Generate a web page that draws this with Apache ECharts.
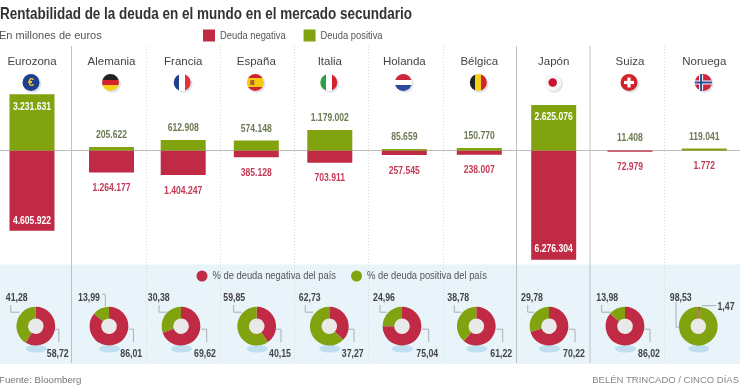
<!DOCTYPE html>
<html>
<head>
<meta charset="utf-8">
<style>html,body{margin:0;padding:0;background:#fff}#c{width:740px;height:389px}</style>
<script src="https://cdn.jsdelivr.net/npm/echarts@6/dist/echarts.min.js"></script>
</head>
<body>
<div id="c"></div>
<script>
const countries = ['Eurozona','Alemania','Francia','España','Italia','Holanda','Bélgica','Japón','Suiza','Noruega'];
const debtNegative = [4605922,1264177,1404247,385128,703911,257545,238007,6276304,72979,1772];
const debtPositive = [3231631,205622,612908,574148,1179002,85659,150770,2625076,11408,119041];
const pctNegative = [58.72,86.01,69.62,40.15,37.27,75.04,61.22,70.22,86.02,1.47];
const pctPositive = [41.28,13.99,30.38,59.85,62.73,24.96,38.78,29.78,13.98,98.53];

/* layout only */
const SANS = '"Liberation Sans", Arial, sans-serif';
const NARROW_T = 'Liberation Sans, Narrow-title';
const NARROW_V = 'Liberation Sans, Narrow-value';
const NARROW_P = 'Liberation Sans, Narrow-pct';
const NARROW_L = 'Liberation Sans, Narrow-legend';
const narrowScale = {'Narrow-title':.817,'Narrow-value':.78,'Narrow-pct':.76,'Narrow-legend':.815};
const RED = '#c02a45', GREEN = '#80a30f';
const barCenters = [32,111.5,183.2,256.3,329.8,404.3,479.3,553.7,630,704.3];
const pieCenters = [35.8,109,181,256.7,329.3,402,476.3,549,625,698.3];
const pieY = 326.2;
const solidSeps = [71.5,516.5,590];
const dotSeps = [146.5,220.5,294.5,368.5,443.5,664.5];
const negLabel = [[22,27],[22.3,27],[24,27],[23.3,27],[23.4,27],[25.3,27],[25,27],[25,27],[24,27],[27.7,-20.5]];
const posLabel = [[-19,-29],[-20,-29],[-22.3,-29],[-22.4,-29],[-19.6,-29],[-18,-29],[-18,-29],[-17,-29],[-17.7,-29],[-17.6,-29.5]];
const negLine = [
  [[18,3],[23,3],[23,16]],[[20,3],[24.5,3],[24.5,16]],[[20.5,3],[25.7,3],[25.7,16]],[[19,3],[24.3,3],[24.3,16]],
  [[19,3],[24.7,3],[24.7,16]],[[20,3],[26.7,3],[26.7,16]],[[20,3],[26.4,3],[26.4,16]],[[20,3],[26,3],[26,16]],
  [[19.5,3],[25,3],[25,16]],[[3.5,-20.5],[17.7,-20.5]]];
const posLine = [
  [[-25,-21],[-25,-14],[-16,-14]],[[-7,-32],[-3.7,-32],[-3.7,-20]],[[-22,-21],[-22,-14],[-14,-14]],[[-23,-21],[-23,-14],[-15,-14]],
  [[-24,-21],[-24,-14],[-16,-14]],[[-22,-21],[-22,-14],[-15,-14]],[[-22,-21],[-22,-14],[-15,-14]],[[-21.3,-21],[-21.3,-14],[-15,-14]],
  [[-23.3,-21],[-23.3,-14],[-14,-14]],[[-22.3,-24.5],[-22.3,1],[-19,1]]];

const fmtInt = v => String(Math.abs(v)).replace(/\B(?=(\d{3})+$)/g,'.');
const fmtPct = v => v.toFixed(2).replace('.',',');
const insideLabels = {Eurozona:[7,4], 'Japón':[7,5]};

const grids=[],xAxes=[],yAxes=[],series=[],graphics=[];

function line(points,stroke,dash,z){
  return {type:'polyline',silent:true,z:z||1,shape:{points},style:{fill:null,stroke,lineWidth:1,lineDash:dash||null}};
}
graphics.push({type:'rect',silent:true,z:0,shape:{x:0,y:264.5,width:740,height:99.5},style:{fill:'#e8f3fa'}});
solidSeps.forEach(x=>graphics.push(line([[x,46],[x,363]],'#bcc3c8')));
dotSeps.forEach(x=>graphics.push(line([[x,46],[x,364]],'#d6d9dc',[1,2])));

function hstops(a){const s=[];a.forEach((c,i)=>{s.push({offset:i/a.length,color:c});s.push({offset:(i+1)/a.length,color:c});});return s;}
function hGrad(a){return {type:'linear',x:0,y:0,x2:1,y2:0,colorStops:hstops(a)};}
function vGrad(a){return {type:'linear',x:0,y:0,x2:0,y2:1,colorStops:hstops(a)};}
function circ(cx,cy,r,fill){return {type:'circle',silent:true,z:1,shape:{cx,cy,r},style:{fill}};}
function rct(x,y,w,h,fill){return {type:'rect',silent:true,z:1,shape:{x,y,width:w,height:h},style:{fill}};}
const flagFns = [
  (x,y)=>[circ(x,y,8.5,'#1f3f8f'),{type:'text',silent:true,z:1,style:{x,y,text:'€',fill:'#e8c32a',font:'bold 11px '+SANS,align:'center',verticalAlign:'middle'}}],
  (x,y)=>[circ(x,y,8.5,vGrad(['#222222','#d2232a','#f5cf1a']))],
  (x,y)=>[circ(x,y,8.5,hGrad(['#1f3f8f','#ffffff','#e0343b']))],
  (x,y)=>[circ(x,y,8.5,{type:'linear',x:0,y:0,x2:0,y2:1,colorStops:[{offset:0,color:'#d2232a'},{offset:.25,color:'#d2232a'},{offset:.25,color:'#f6c90e'},{offset:.75,color:'#f6c90e'},{offset:.75,color:'#d2232a'},{offset:1,color:'#d2232a'}]}),rct(x-5,y-2.5,4,5,'#a8642a')],
  (x,y)=>[circ(x,y,8.5,hGrad(['#2f9e44','#ffffff','#d2232a']))],
  (x,y)=>[circ(x,y,8.5,vGrad(['#c9283e','#ffffff','#2a4a9b']))],
  (x,y)=>[circ(x,y,8.5,hGrad(['#222222','#f5cf1a','#d2232a']))],
  (x,y)=>[circ(x,y,8.5,'#f7f7f7'),circ(x,y,4.3,'#cc1133')],
  (x,y)=>[circ(x,y,8.5,'#d2232a'),rct(x-5,y-1.6,10,3.2,'#fff'),rct(x-1.6,y-5,3.2,10,'#fff')],
  (x,y)=>[circ(x,y,8.5,'#c9283e'),rct(x-8.2,y-2,16.4,4,'#fff'),rct(x-4.2,y-8,4,16,'#fff'),rct(x-8.4,y-1,16.8,2,'#2a4a9b'),rct(x-3.2,y-8.4,2,16.8,'#2a4a9b')]
];

countries.forEach((name,i)=>{
  const c = barCenters[i];
  grids.push({left:c-42,width:84,top:46.2,height:217.5,outerBoundsMode:'none'});
  xAxes.push({gridIndex:i,type:'category',data:[name],position:'top',
    axisLine:{show:true,onZero:true,lineStyle:{color:'#bdbdbd',width:1}},axisTick:{show:false},
    axisLabel:{show:true,inside:true,interval:0,margin:10,color:'#444',fontFamily:SANS,fontSize:11.5}});
  yAxes.push({gridIndex:i,type:'value',min:-6500000,max:6000000,show:false,splitLine:{show:false}});
  const ins = insideLabels[name];
  series.push({type:'bar',name:'Deuda negativa',xAxisIndex:i,yAxisIndex:i,stack:'s'+i,barWidth:45,
    itemStyle:{color:RED},data:[-debtNegative[i]],
    label:{show:true,position:ins?'insideBottom':'bottom',distance:ins?ins[1]:10,formatter:p=>fmtInt(p.value),
      color:ins?'#fff':'#c43a55',fontFamily:NARROW_V,fontSize:11,fontWeight:'bold'}});
  series.push({type:'bar',name:'Deuda positiva',xAxisIndex:i,yAxisIndex:i,stack:'s'+i,barWidth:45,
    itemStyle:{color:GREEN},data:[debtPositive[i]],
    label:{show:true,position:ins?'insideTop':'top',distance:ins?ins[0]:6.5,formatter:p=>fmtInt(p.value),
      color:ins?'#fff':'#6b7a52',fontFamily:NARROW_V,fontSize:11,fontWeight:'bold'}});

  const px = pieCenters[i];
  graphics.push({type:'ellipse',silent:true,z:1,shape:{cx:px+.5,cy:pieY+22.5,rx:10.5,ry:3.8},style:{fill:'#bfdff1'}});
  graphics.push(circ(px,pieY,9,'#e9e9e9'));
  graphics.push(line(negLine[i].map(p=>[px+p[0],pieY+p[1]]),'#a9b0b4',null,1));
  graphics.push(line(posLine[i].map(p=>[px+p[0],pieY+p[1]]),'#a9b0b4',null,1));
  series.push({type:'pie',name:name,center:[px,pieY],radius:[7.8,19.4],startAngle:90,clockwise:true,avoidLabelOverlap:false,silent:true,
    label:{show:true,position:'outside',formatter:p=>fmtPct(p.value),color:'#444',fontFamily:NARROW_P,fontSize:11.5,fontWeight:'bold'},
    labelLine:{show:false},
    labelLayout:p=>{const o=p.dataIndex===0?negLabel[i]:posLabel[i];return {x:px+o[0],y:pieY+o[1]+.7,align:'center',verticalAlign:'middle',hideOverlap:false};},
    data:[{name:'% de deuda negativa del país',value:pctNegative[i],itemStyle:{color:RED}},
          {name:'% de deuda positiva del país',value:pctPositive[i],itemStyle:{color:GREEN}}]});

  const fx=c-1, fy=82.5;
  graphics.push(circ(fx+1.5,fy+1.5,8.8,'#dfe5ec'));
  flagFns[i](fx,fy).forEach(g=>graphics.push(g));
});

const option = {
  animation:false,
  backgroundColor:'#fff',
  title:[
    {text:'Rentabilidad de la deuda en el mundo en el mercado secundario',left:0,top:6,padding:0,
      textStyle:{color:'#333',fontFamily:NARROW_T,fontSize:16.5,fontWeight:'bold'}},
    {text:'En millones de euros',left:-1,top:30,padding:0,textStyle:{color:'#555',fontFamily:SANS,fontSize:11,fontWeight:'normal'}},
    {text:'Fuente: Bloomberg',left:-1,top:375.5,padding:0,textStyle:{color:'#777',fontFamily:SANS,fontSize:9.7,fontWeight:'normal'}},
    {text:'BELÉN TRINCADO / CINCO DÍAS',right:1,top:375.5,padding:0,textStyle:{color:'#888',fontFamily:SANS,fontSize:9.5,fontWeight:'normal'}}
  ],
  legend:[
    {data:[{name:'Deuda negativa',icon:'rect'},{name:'Deuda positiva',icon:'rect'}],selectedMode:false,left:203,top:29.5,padding:0,
      itemWidth:12,itemHeight:12,itemGap:3,textStyle:{color:'#555',fontFamily:NARROW_L,fontSize:11.5}},
    {data:[{name:'% de deuda negativa del país',icon:'circle'},{name:'% de deuda positiva del país',icon:'circle'}],selectedMode:false,left:196.5,top:270,padding:0,
      itemWidth:11,itemHeight:11,itemGap:-13,textStyle:{color:'#555',fontFamily:NARROW_L,fontSize:11.5}}
  ],
  graphic:{elements:graphics},
  grid:grids,xAxis:xAxes,yAxis:yAxes,series:series,tooltip:{show:false}
};
const chart = echarts.init(document.getElementById('c'),null,{renderer:'canvas'});
chart.setOption(option);

/* No narrow face is installed: condense the marked text horizontally, keeping it real text. */
function condense(el){
  const st = el.style;
  if(st && st.text!=null){
    const fam = String(st.fontFamily||'') + String(st.font||'');
    for(const k in narrowScale){ if(fam.indexOf(k)>=0){ el.originX = st.x||0; el.scaleX = narrowScale[k]; el.markRedraw(); } }
  }
  if(el.getTextContent && el.getTextContent()) condense(el.getTextContent());
  if(el.isGroup) el.children().forEach(condense);
}
chart.getZr().storage.getRoots().forEach(condense);
chart.getZr().refreshImmediately();
</script>
</body>
</html>
